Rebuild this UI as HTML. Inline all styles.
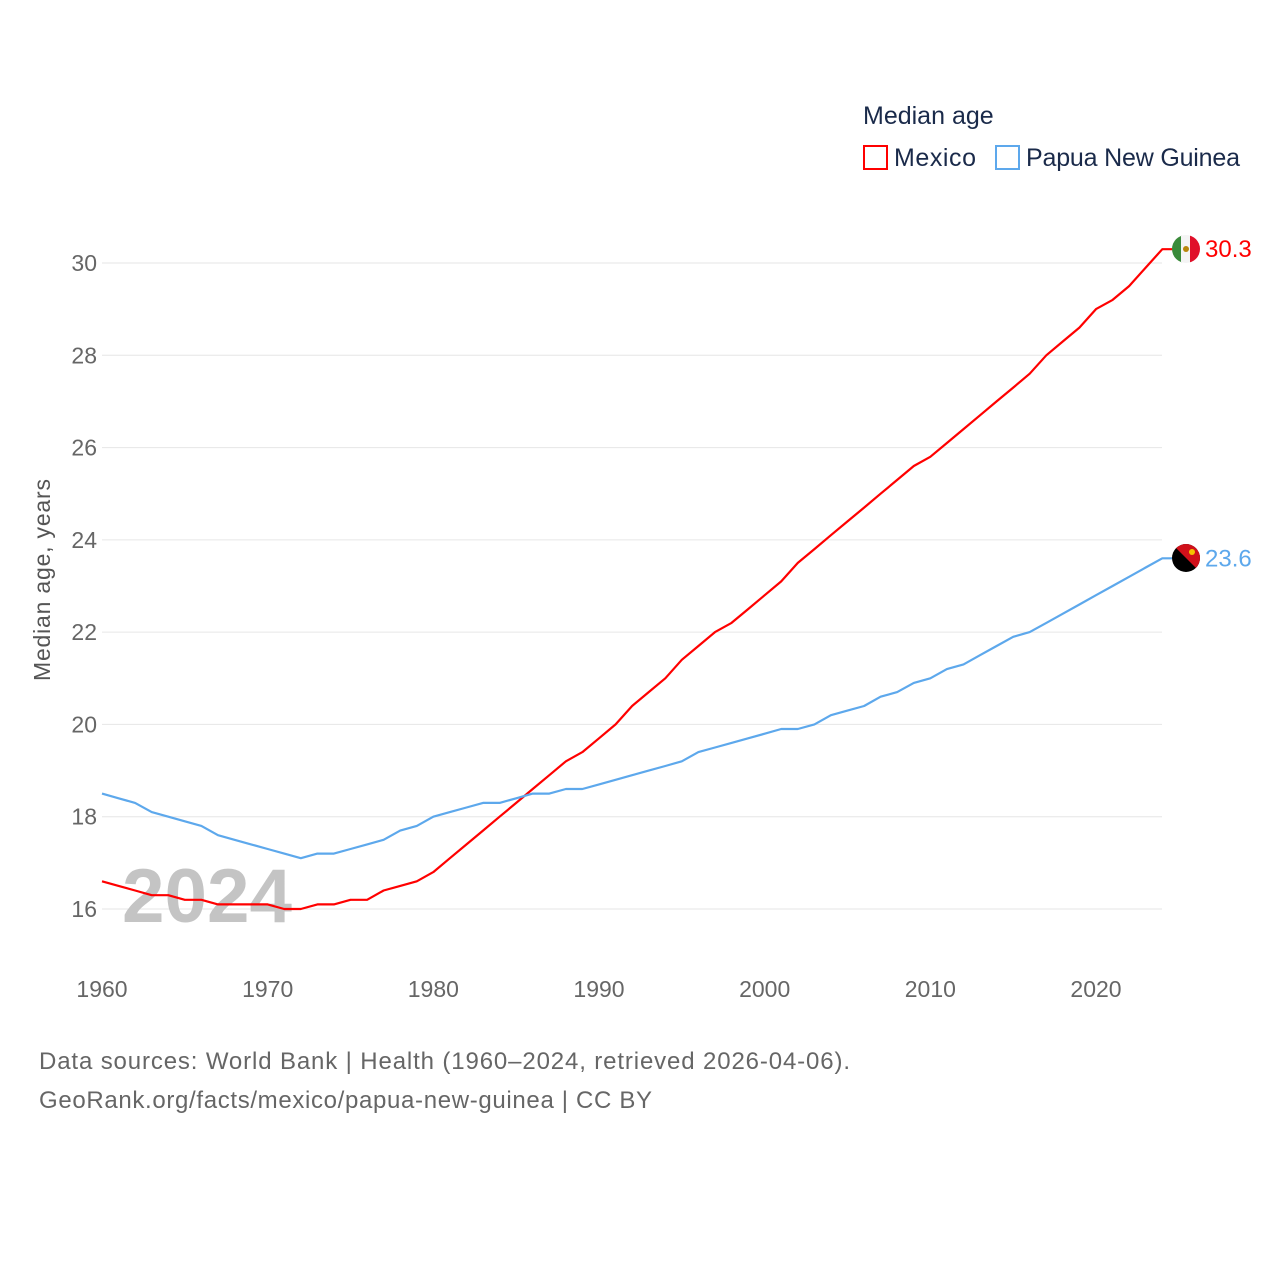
<!DOCTYPE html>
<html><head><meta charset="utf-8">
<style>
body{margin:0;background:#fff;font-family:"Liberation Sans",sans-serif;}
svg text{font-family:"Liberation Sans",sans-serif;}
</style></head>
<body>
<svg id="chart" width="1280" height="1280" viewBox="0 0 1280 1280">
<defs>
<clipPath id="c1"><circle cx="1186" cy="249" r="14"/></clipPath>
<clipPath id="c2"><circle cx="1186" cy="558" r="14"/></clipPath>
</defs>
<text x="863" y="124" font-size="25" fill="#1a2a4a">Median age</text>
<g>
<rect x="864" y="146" width="23" height="23" fill="none" stroke="#f00" stroke-width="2"/>
<text x="894" y="166" font-size="25" fill="#1a2a4a" textLength="82">Mexico</text></g>
<g>
<rect x="996" y="146" width="23" height="23" fill="none" stroke="#5da8ec" stroke-width="2"/>
<text x="1026" y="166" font-size="25" fill="#1a2a4a" textLength="214">Papua New Guinea</text></g>
<g id="grid"></g><g id="yticks"></g><g id="xticks"></g>
<text x="207" y="922" font-size="76" font-weight="bold" fill="#c4c4c4" text-anchor="middle" textLength="170" lengthAdjust="spacingAndGlyphs">2024</text>
<g id="lines"></g>
<g clip-path="url(#c1)">
<rect x="1172" y="235" width="10" height="28" fill="#3a8a3a"/><rect x="1181" y="235" width="10" height="28" fill="#f4f4f4"/><rect x="1190" y="235" width="10" height="28" fill="#e0102a"/>
<circle cx="1186" cy="249" r="3" fill="#b8860b"/></g>
<g clip-path="url(#c2)">
<rect x="1172" y="544" width="28" height="28" fill="#000"/><polygon points="1172,544 1200,544 1200,572" fill="#d0101a"/>
<circle cx="1192" cy="552" r="3" fill="#f5c400"/></g>
<text transform="translate(50,580) rotate(-90)" font-size="23" fill="#555" text-anchor="middle" textLength="202">Median age, years</text>
<text x="39" y="1069" font-size="24" fill="#666" textLength="811">Data sources: World Bank | Health (1960–2024, retrieved 2026-04-06).</text>
<text x="39" y="1108" font-size="24" fill="#666" textLength="613">GeoRank.org/facts/mexico/papua-new-guinea | CC BY</text>
</svg>
<script>
const years=[];for(let y=1960;y<=2024;y++)years.push(y);
const mexico=[16.6,16.5,16.4,16.3,16.3,16.2,16.2,16.1,16.1,16.1,16.1,16.0,16.0,16.1,16.1,16.2,16.2,16.4,16.5,16.6,16.8,17.1,17.4,17.7,18.0,18.3,18.6,18.9,19.2,19.4,19.7,20.0,20.4,20.7,21.0,21.4,21.7,22.0,22.2,22.5,22.8,23.1,23.5,23.8,24.1,24.4,24.7,25.0,25.3,25.6,25.8,26.1,26.4,26.7,27.0,27.3,27.6,28.0,28.3,28.6,29.0,29.2,29.5,29.9,30.3];
const png=[18.5,18.4,18.3,18.1,18.0,17.9,17.8,17.6,17.5,17.4,17.3,17.2,17.1,17.2,17.2,17.3,17.4,17.5,17.7,17.8,18.0,18.1,18.2,18.3,18.3,18.4,18.5,18.5,18.6,18.6,18.7,18.8,18.9,19.0,19.1,19.2,19.4,19.5,19.6,19.7,19.8,19.9,19.9,20.0,20.2,20.3,20.4,20.6,20.7,20.9,21.0,21.2,21.3,21.5,21.7,21.9,22.0,22.2,22.4,22.6,22.8,23.0,23.2,23.4,23.6];
const yTicks=[16,18,20,22,24,26,28,30];
const xTicks=[1960,1970,1980,1990,2000,2010,2020];
const NS="http://www.w3.org/2000/svg";
const X=v=>102+(v-1960)*(1096-102)/60;
const Y=v=>909-(v-16)*(909-263)/14;
function mk(tag,attrs,parent,txt){const e=document.createElementNS(NS,tag);for(const k in attrs)e.setAttribute(k,attrs[k]);if(txt!==undefined)e.textContent=txt;document.getElementById(parent).appendChild(e);return e;}
yTicks.forEach(t=>{
 const l=mk('line',{x1:102,x2:1162,y1:Y(t),y2:Y(t),stroke:'#e6e6e6','stroke-width':1},'grid');
 
 
 const tx=mk('text',{x:97,y:Y(t)+8,'font-size':23,fill:'#666','text-anchor':'end'},'yticks',String(t));
 
 
});
xTicks.forEach(t=>{
 const tx=mk('text',{x:X(t),y:997,'font-size':23,fill:'#666','text-anchor':'middle'},'xticks',String(t));
 
 
});
function series(vals,color,name){
 const pts=vals.map((v,i)=>X(years[i]).toFixed(1)+','+Y(v).toFixed(1));
 const last=vals[vals.length-1];
 pts.push((X(2024)+10)+','+Y(last).toFixed(1));
 const p=mk('polyline',{points:pts.join(' '),fill:'none',stroke:color,'stroke-width':2.2,'stroke-linejoin':'round'},'lines');
 
 
 const t=mk('text',{x:1205,y:Y(last)+8,'font-size':24,fill:color},'lines',last.toFixed(1));
 
 
}
series(mexico,'#ff0000','mexico');
series(png,'#5da8ec','png');
</script>
</body></html>
